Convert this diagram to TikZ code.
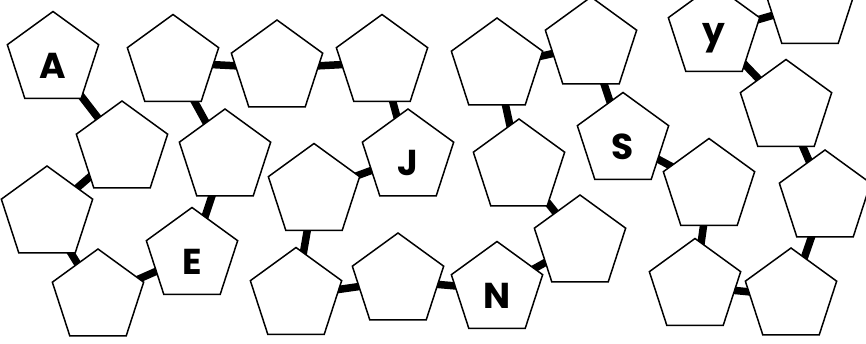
\documentclass[tikz,border=0pt]{standalone}
\usepackage{fontspec}
\setmainfont{Poppins}
\usetikzlibrary{shapes.geometric,backgrounds}

\begin{document}
\begin{tikzpicture}[
    x=1pt, y=-1pt,
    pent/.style={draw, fill=white, line width=1.5pt, regular polygon, regular polygon sides=5, minimum size=96pt, inner sep=0pt},
    letter/.style={label={[font=\fontsize{36}{36}\selectfont\bfseries, yshift=-6pt]center:#1}},
    link/.style={line width=7.5pt}
]
\useasboundingbox (0,0) rectangle (866,343);
\clip (0,0) rectangle (866,343);

\node[pent, letter=A] (p1) at (53,59.5) {};
\node[pent] (p2) at (122,149) {};
\node[pent] (p3) at (47,214) {};
\node[pent] (p4) at (98,297) {};
\node[pent, letter=E] (p5) at (192,255.5) {};
\node[pent] (p6) at (225,157) {};
\node[pent] (p7) at (173,62.5) {};
\node[pent] (p8) at (277,68) {};
\node[pent] (p9) at (382,62.5) {};
\node[pent, letter=J] (p10) at (408,157) {};
\node[pent] (p11) at (314,191.5) {};
\node[pent] (p12) at (296,295.5) {};
\node[pent] (p13) at (398,281) {};
\node[pent, letter=N] (p14) at (497,289.5) {};
\node[pent] (p15) at (580,243) {};
\node[pent] (p16) at (519,167) {};
\node[pent] (p17) at (497,66) {};
\node[pent] (p18) at (591,45) {};
\node[pent, letter=S] (p19) at (623,140.5) {};
\node[pent] (p20) at (709,186.5) {};
\node[pent] (p21) at (695,286.5) {};
\node[pent] (p22) at (791,296) {};
\node[pent] (p23) at (825,198) {};
\node[pent] (p24) at (786,107.5) {};
\node[pent, letter=y] (p25) at (714,32.5) {};
\node[pent] (p26) at (810,4.5) {};

\begin{scope}[on background layer]
\draw[link] (p1.center) -- (p2.center);
\draw[link] (p2.center) -- (p3.center);
\draw[link] (p3.center) -- (p4.center);
\draw[link] (p4.center) -- (p5.center);
\draw[link] (p5.center) -- (p6.center);
\draw[link] (p6.center) -- (p7.center);
\draw[link] (p7.center) -- (p8.center);
\draw[link] (p8.center) -- (p9.center);
\draw[link] (p9.center) -- (p10.center);
\draw[link] (p10.center) -- (p11.center);
\draw[link] (p11.center) -- (p12.center);
\draw[link] (p12.center) -- (p13.center);
\draw[link] (p13.center) -- (p14.center);
\draw[link] (p14.center) -- (p15.center);
\draw[link] (p15.center) -- (p16.center);
\draw[link] (p16.center) -- (p17.center);
\draw[link] (p17.center) -- (p18.center);
\draw[link] (p18.center) -- (p19.center);
\draw[link] (p19.center) -- (p20.center);
\draw[link] (p20.center) -- (p21.center);
\draw[link] (p21.center) -- (p22.center);
\draw[link] (p22.center) -- (p23.center);
\draw[link] (p23.center) -- (p24.center);
\draw[link] (p24.center) -- (p25.center);
\draw[link] (p25.center) -- (p26.center);
\end{scope}
\end{tikzpicture}
\end{document}
